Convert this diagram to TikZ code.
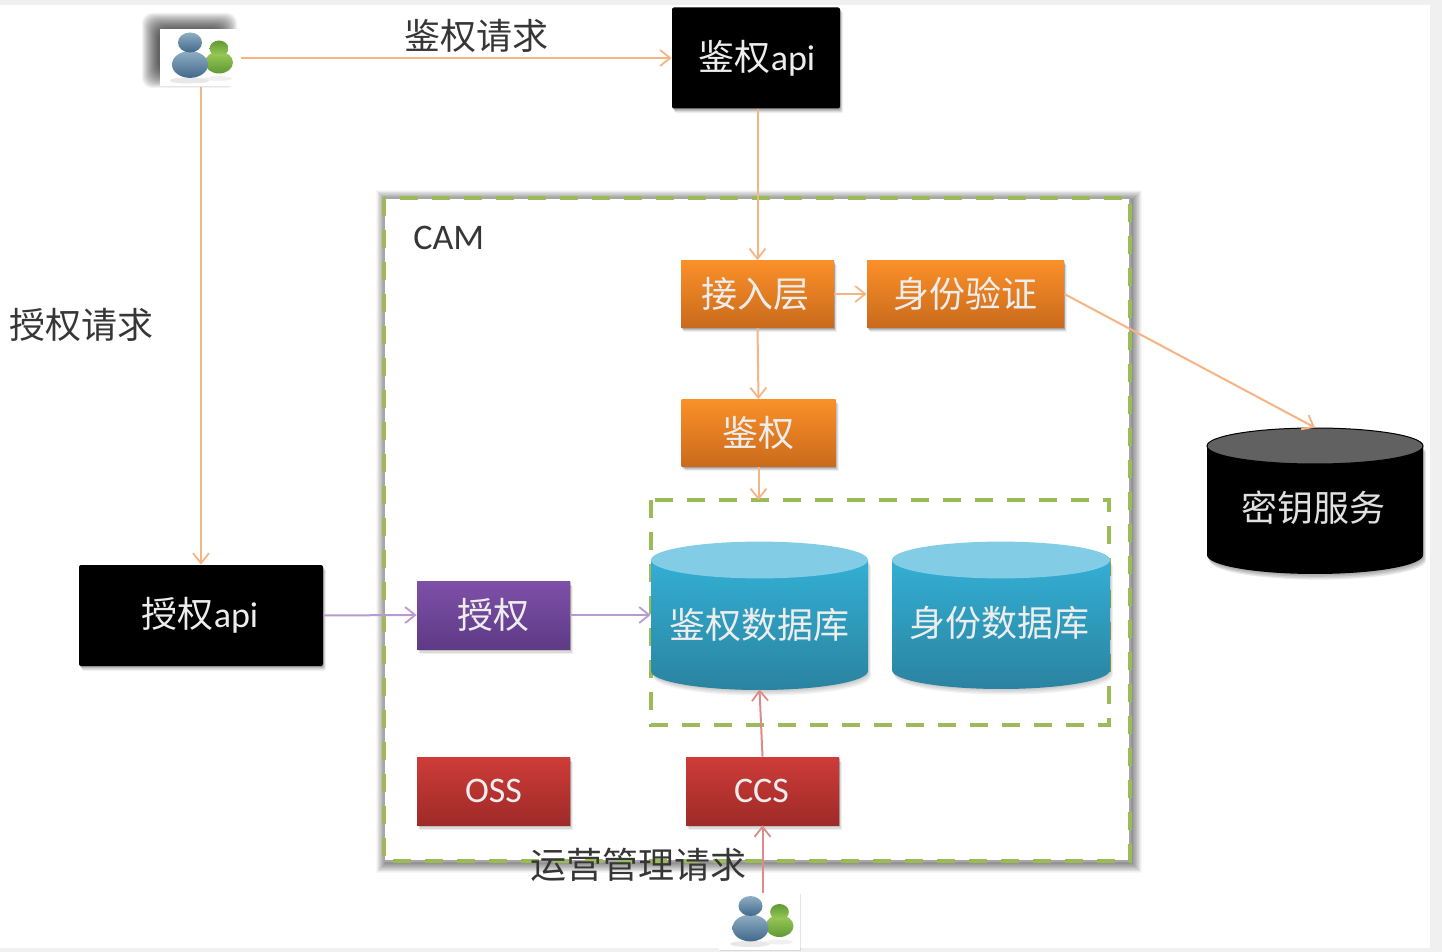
\documentclass[tikz,border=0pt]{standalone}
\usepackage{fontspec}
\setmainfont{Carlito}
\newfontfamily\cjk{Noto Sans CJK SC}
\usetikzlibrary{shadows,arrows.meta}
\newcommand{\zh}[1]{{\cjk #1}}
\definecolor{lineor}{HTML}{F7B483}
\definecolor{linepu}{HTML}{B79BD0}
\definecolor{linere}{HTML}{D98C8A}
\definecolor{dashgr}{HTML}{9BBB59}
\definecolor{txt}{HTML}{363636}
\definecolor{orangetop}{HTML}{FB9029}
\definecolor{orangebot}{HTML}{C96A1C}
\definecolor{purpletop}{HTML}{7E50A8}
\definecolor{purplebot}{HTML}{5E3A86}
\definecolor{redtop}{HTML}{CE3C38}
\definecolor{redbot}{HTML}{9E2A28}
\definecolor{cyltop}{HTML}{33AFD4}
\definecolor{cylbot}{HTML}{2A83A0}
\definecolor{cyllid}{HTML}{82CDE5}
\definecolor{bluetop}{HTML}{8FAEC4}
\definecolor{bluebot}{HTML}{41698A}
\definecolor{greentop}{HTML}{9CCB5A}
\definecolor{greenbot}{HTML}{5F9A32}
\tikzset{
  x=0.5pt,y=-0.5pt,
  big/.style={font=\fontsize{18pt}{21pt}\selectfont},
  plain/.style={big,inner sep=0pt,text=txt},
  softshadow/.style={
    general shadow={shadow xshift=.3pt,shadow yshift=-.6pt,opacity=.14,fill=black},
    general shadow={shadow xshift=.7pt,shadow yshift=-1.2pt,opacity=.12,fill=black},
    general shadow={shadow xshift=1.1pt,shadow yshift=-1.8pt,opacity=.09,fill=black},
    general shadow={shadow xshift=1.5pt,shadow yshift=-2.4pt,opacity=.06,fill=black}},
  solidbox/.style={big,inner sep=0pt,text=white!93!black,softshadow},
  blackbox/.style={solidbox,fill=black,rounded corners=1pt},
  orangebox/.style={solidbox,top color=orangetop,bottom color=orangebot},
  purplebox/.style={solidbox,top color=purpletop,bottom color=purplebot},
  redbox/.style={solidbox,top color=redtop,bottom color=redbot},
  conn/.style={line width=1pt,-{Straight Barb[length=5pt,width=8pt,line width=.9pt]}},
  orangeline/.style={conn,draw=lineor},
  purpleline/.style={conn,draw=linepu},
  redline/.style={conn,draw=linere},
  greendash/.style={draw=dashgr,line width=2pt,dash pattern=on 9pt off 7pt},
  anchorbox/.style={inner sep=0pt,big,text=white!93!black},
  whitetile/.style={fill=white,inner sep=0pt,minimum width=40.5pt,minimum height=28.5pt},
}
% cylinder body: left, right, lid centre y, bottom-side y, colours, shadow opacity
\newcommand{\cylshape}[7]{%
  \foreach \s in {1,2,3,4}{
    \path[fill=black,opacity=#7] (#1+\s*0.7,#3+\s*1.4) -- (#1+\s*0.7,#4+\s*1.4) arc[start angle=180,end angle=360,x radius={(#2-#1)/4*1pt},y radius=9.5pt] -- (#2+\s*0.7,#3+\s*1.4) -- cycle;
  }
  \path[top color=#5,bottom color=#6] (#1,#3) -- (#1,#4) arc[start angle=180,end angle=360,x radius={(#2-#1)/4*1pt},y radius=9.5pt] -- (#2,#3) -- cycle;
}
\newcommand{\usericon}[2]{%
  \begin{scope}[shift={(#1,#2)}]
    \fill[black!9] (-10,23) ellipse[x radius=10pt,y radius=1.5pt];
    \fill[black!6] (19,21) ellipse[x radius=7pt,y radius=1.2pt];
    \shade[top color=greentop,bottom color=greenbot] (19.5,5) ellipse[x radius=7pt,y radius=5.5pt];
    \shade[top color=greenbot,bottom color=greentop] (19.5,-9) ellipse[x radius=4.7pt,y radius=4pt];
    \shade[top color=bluetop,bottom color=bluebot] (-9.5,7) ellipse[x radius=9pt,y radius=6.7pt];
    \shade[top color=bluetop,bottom color=bluebot] (-9.5,-15) ellipse[x radius=6pt,y radius=5pt];
  \end{scope}}
\begin{document}
\begin{tikzpicture}
\useasboundingbox (0,0) rectangle (1442,952);
\fill[black!6] (0,0) rectangle (1442,952);
\fill[white] (0,5) rectangle (1430,948);

% user 1 blurred shadow
\foreach \g in {0,1,...,16}{
  \fill[black,opacity=.05,rounded corners=5pt] (142+\g,13+\g) rectangle (237-\g,88-\g);
}
% CAM box
\foreach \w in {1,2,...,16}{
  \draw[black,opacity=.03,line width=\w*0.6pt] (386,200) rectangle (1132,863);
}
\fill[white] (384,198) rectangle (1130,861);
\draw[black!35,line width=.7pt] (384,198) rectangle (1130,861);
\draw[greendash] (384,198) rectangle (1130,861);

% Inner dashed box
\draw[greendash] (651,500) rectangle (1109,725);
\coordinate (dbgate) at (758.5,500);

% Nodes
\node[whitetile] (u1) at (200,58) {};
\usericon{199.5}{57.5}
\node[whitetile,general shadow={shadow xshift=.5pt,shadow yshift=-.5pt,opacity=.1,fill=black}] (u2) at (759.5,921.5) {};
\usericon{760}{921}

\node[blackbox,minimum width=84pt,minimum height=50.5pt] (authapi) at (756,58) {\zh{鉴权}api\kern-1pt};
\node[blackbox,minimum width=122pt,minimum height=50.5pt] (grantapi) at (201,615.5) {\kern-1pt\zh{授权}api};

\node[orangebox,minimum width=76.5pt,minimum height=33.5pt] (access) at (757.5,294) {\kern-2pt\zh{接入层}};
\node[orangebox,minimum width=98.5pt,minimum height=33.5pt] (identity) at (965.5,294) {\zh{身份验证}};
\node[orangebox,minimum width=77pt,minimum height=33.5pt] (auth) at (758.5,433) {\zh{鉴权}};
\node[purplebox,minimum width=76.5pt,minimum height=34pt] (grant) at (493.5,615) {\zh{授权}};
\node[redbox,minimum width=76.5pt,minimum height=34pt] (oss) at (493.5,791) {OSS};
\node[redbox,minimum width=76.5pt,minimum height=34pt] (ccs) at (762.5,791) {\kern-1pt CCS};

% Cylinders
\cylshape{651}{868}{560}{671}{cyltop}{cylbot}{.05}
\fill[cyllid] (759.5,560) ellipse[x radius=54.25pt,y radius=9.2pt];
\node[anchorbox,minimum width=108.5pt,minimum height=74pt] (db1) at (759.5,615) {};
\node[big,text=white!93!black,inner sep=0pt] (db1t) at (759,625) {\zh{鉴权数据库}};

\cylshape{892}{1110}{560}{670}{cyltop}{cylbot}{.05}
\fill[cyllid] (1001,560) ellipse[x radius=54.5pt,y radius=9.2pt];
\node[anchorbox,minimum width=109pt,minimum height=73.5pt] (db2) at (1001,615.5) {};
\node[big,text=white!93!black,inner sep=0pt] (db2t) at (999,623) {\zh{身份数据库}};

\cylshape{1207}{1423}{446}{555}{black}{black}{.09}
\fill[black!62] (1315,446) ellipse[x radius=54pt,y radius=9pt];
\draw[black,line width=.5pt] (1315,446) ellipse[x radius=54pt,y radius=9pt];
\node[anchorbox,minimum width=108pt,minimum height=73pt] (keysvc) at (1315,501) {};
\node[big,text=white!88!black,inner sep=0pt] (keyt) at (1313,508) {\zh{密钥服务}};

% Free labels
\node[plain] (lblauth) at (476,36) {\zh{鉴权请求}};
\node[plain] (lblgrant) at (82,325) {\zh{授权请求}};
\node[plain,anchor=west] (lblcam) at (413,238) {CAM};
\node[plain] (lblops) at (638.5,865) {\zh{运营管理请求}};

% Connectors
\draw[orangeline] (u1.east) -- (authapi.west);
\draw[orangeline] (u1.south -| grantapi.north) -- (grantapi.north);
\draw[orangeline] (authapi.south -| access.north) -- (access.north);
\draw[orangeline] (access.east) -- (identity.west);
\draw[orangeline] (access.south) -- (auth.north);
\draw[orangeline] (auth.south) -- (dbgate);
\draw[orangeline] (identity.east) -- (keysvc.north);
\draw[purpleline] (grantapi.east) -- (grant.west);
\draw[purpleline] (grant.east) -- (db1.west);
\draw[redline] (ccs.north) -- (db1.south);
\draw[redline] (u2.north -| ccs.south) -- (ccs.south);
\end{tikzpicture}
\end{document}
